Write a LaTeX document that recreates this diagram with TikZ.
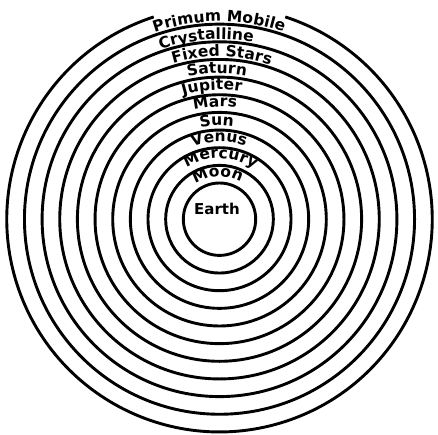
\documentclass[tikz,border=0pt]{standalone}
\usepackage{fontspec}
\usetikzlibrary{decorations.text}
\newfontfamily\labfont{DejaVu Sans}
\tikzset{
  ring/.style={draw=black, line width=2.9pt},
  earthlabel/.style={font=\labfont\bfseries\fontsize{15}{18}\selectfont, inner sep=0pt},
}
% #1 baseline radius, #2 centre angle, #3 text
\newcommand\ringlabel[3]{%
  \path[decorate, decoration={text along path, text align=center, text color=black,
      text={|\labfont\bfseries\fontsize{15.5}{18}\selectfont|#3}}]
    ([shift={(#2+70:#1pt)}]C) arc[start angle=#2+70, end angle=#2-70, radius=#1pt];
}
\begin{document}
\begin{tikzpicture}[x=1pt,y=1pt]
\useasboundingbox (0,0) rectangle (438,434);
\coordinate (C) at (219.5,214.8);
\foreach \k in {0,...,9}{
  \draw[ring] (C) circle[radius={36.2pt+\k*17.65pt}];
}
% outer sphere, broken behind "Primum Mobile"
\draw[ring] ([shift={(108:212.7pt)}]C) arc[start angle=108, end angle=432, radius=212.7pt];
\ringlabel{42.5}{92.4}{Moon}
\ringlabel{61}{88.9}{Mercury}
\ringlabel{77.5}{90.3}{Venus}
\ringlabel{93.5}{91.6}{Sun}
\ringlabel{112.5}{92.2}{Mars}
\ringlabel{129.2}{93.3}{Jupiter}
\ringlabel{145.9}{91}{Saturn}
\ringlabel{162.5}{89.2}{Fixed Stars}
\ringlabel{179.7}{94.2}{Crystalline}
\ringlabel{197.7}{90.1}{Primum Mobile}
\node[earthlabel] (earth) at (217,225.5) {Earth};
\end{tikzpicture}
\end{document}
